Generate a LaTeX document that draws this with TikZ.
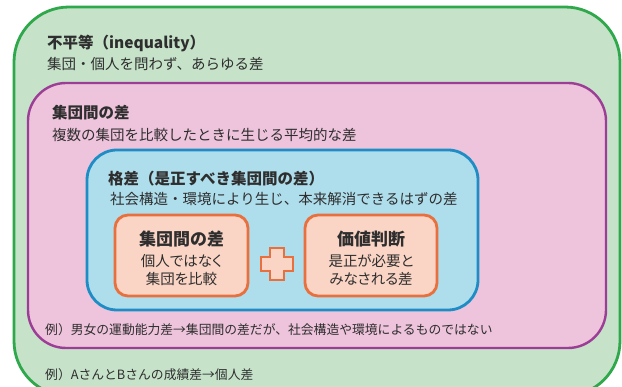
\documentclass[tikz,border=0pt]{standalone}
\usepackage{fontspec}
\setmainfont{Noto Sans CJK JP}
\newfontfamily\jpp{Noto Sans CJK JP}[RawFeature=+palt]
\definecolor{gfill}{HTML}{C6E3CA}
\definecolor{gline}{HTML}{2FA84B}
\definecolor{pfill}{HTML}{EEC3DC}
\definecolor{pline}{HTML}{9C3D96}
\definecolor{bfill}{HTML}{AEDDEC}
\definecolor{bline}{HTML}{1E8DC5}
\definecolor{ofill}{HTML}{FAD4C4}
\definecolor{oline}{HTML}{E8703F}
\definecolor{txt}{HTML}{2E2E2E}
\tikzset{
  panel/.style={draw, rectangle, inner sep=0pt},
  head/.style={anchor=west, inner sep=0pt, text=txt, font=\fontsize{15.5}{18}\selectfont\bfseries},
  body/.style={anchor=west, inner sep=0pt, text=txt, font=\fontsize{14.5}{17}\selectfont},
  exbody/.style={anchor=west, inner sep=0pt, text=txt, font=\fontsize{12.8}{16}\selectfont},
  boxhead/.style={inner sep=0pt, text=txt, font=\fontsize{17}{20}\selectfont\bfseries},
  boxbody/.style={inner sep=0pt, text=txt, font=\jpp\fontsize{14.5}{17}\selectfont},
}
\begin{document}
\begin{tikzpicture}[x=1pt,y=-1pt]
\useasboundingbox[fill=white] (0,0) rectangle (622,387);
% outer green
\node[panel, fill=gfill, draw=gline, line width=2.8pt, rounded corners=55pt,
      minimum width=606pt, minimum height=389pt] (ineq) at (317,201.5) {};
% pink
\node[panel, fill=pfill, draw=pline, line width=2.4pt, rounded corners=38pt,
      minimum width=578pt, minimum height=265pt] (grp) at (317,215.5) {};
% blue
\node[panel, fill=bfill, draw=bline, line width=2.8pt, rounded corners=30pt,
      minimum width=391pt, minimum height=160pt] (kaku) at (282.5,230) {};
% orange boxes
\node[panel, fill=ofill, draw=oline, line width=2.8pt, rounded corners=13pt,
      minimum width=133pt, minimum height=81pt] (lbox) at (181.5,255.5) {};
\node[panel, fill=ofill, draw=oline, line width=2.8pt, rounded corners=13pt,
      minimum width=132pt, minimum height=81pt] (rbox) at (371,255.5) {};
% plus sign
\draw[fill=ofill, draw=oline, line width=2.4pt, line join=miter]
  (270,248) -- (284,248) -- (284,257) -- (293,257) -- (293,271) -- (284,271)
  -- (284,280) -- (270,280) -- (270,271) -- (261,271) -- (261,257) -- (270,257) -- cycle;
% texts
\node[head] (t1) at (47,43) {不平等（inequality）};
\node[body] (t2) at (47,63.5) {集団・個人を問わず、あらゆる差};
\node[head] (t3) at (52,113) {集団間の差};
\node[body] (t4) at (52,135) {複数の集団を比較したときに生じる平均的な差};
\node[head] (t5) at (108,179) {格差（是正すべき集団間の差）};
\node[body] (t6) at (110,199.5) {社会構造・環境により生じ、本来解消できるはずの差};
\node[boxhead] (l1) at (181.5,239) {集団間の差};
\node[boxbody] (l2) at (181.5,261) {個人ではなく};
\node[boxbody] (l3) at (181.5,278.5) {集団を比較};
\node[boxhead] (r1) at (371,239) {価値判断};
\node[boxbody] (r2) at (371,261) {是正が必要と};
\node[boxbody] (r3) at (371,278.5) {みなされる差};
\node[exbody] (e1) at (45,329.5) {例）男女の運動能力差→集団間の差だが、社会構造や環境によるものではない};
\node[exbody] (e2) at (45,375) {例）AさんとBさんの成績差→個人差};
\end{tikzpicture}
\end{document}
